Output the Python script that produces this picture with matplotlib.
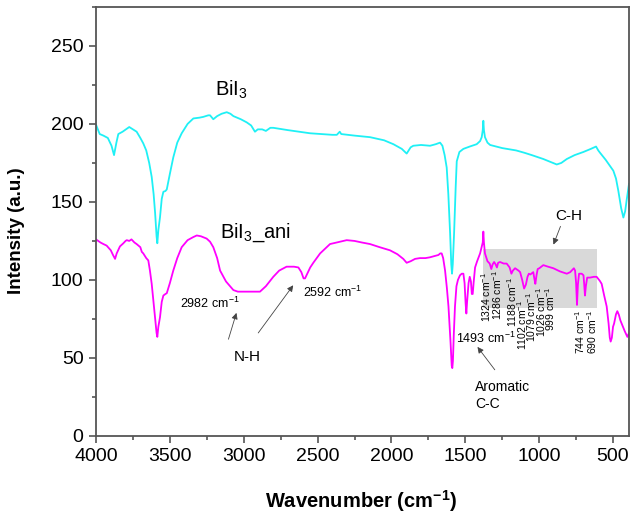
import matplotlib
matplotlib.use('Agg')
import matplotlib.pyplot as plt
from matplotlib.ticker import MultipleLocator
from matplotlib.patches import Rectangle

plt.rcParams['font.family'] = ['Liberation Sans', 'DejaVu Sans']
plt.rcParams['mathtext.fontset'] = 'custom'
plt.rcParams['mathtext.rm'] = 'Liberation Sans'
plt.rcParams['mathtext.bf'] = 'Liberation Sans:bold'

# BiI3 spectrum (wavenumber, intensity)
bii3_wn = [4000, 3975, 3950, 3920, 3895, 3878, 3862, 3849, 3820, 3790, 3775, 3750, 3725, 3700,
           3680, 3660, 3640, 3623, 3610, 3600, 3590, 3585, 3578, 3567, 3555, 3544, 3530, 3521,
           3500, 3477, 3450, 3420, 3380, 3341, 3300, 3274, 3240, 3228, 3206, 3180, 3150, 3115,
           3090, 3070, 3020, 2980, 2950, 2924, 2905, 2875, 2850, 2820, 2800, 2700, 2551, 2400,
           2370, 2350, 2340, 2250, 2145, 2050, 1987, 1930, 1897, 1870, 1852, 1800, 1739, 1700,
           1671, 1655, 1640, 1626, 1615, 1603, 1595, 1590, 1585, 1576, 1565, 1558, 1540, 1513,
           1470, 1423, 1400, 1389, 1382, 1378, 1374, 1367, 1350, 1332, 1250, 1156, 1100, 1050,
           972, 920, 881, 850, 813, 760, 701, 650, 615, 600, 588, 550, 498, 480, 464, 445, 430,
           418, 408, 392]
bii3_int = [199.5, 193.5, 192.5, 191, 186, 180, 188, 193.5, 195, 197, 198, 196.5, 195, 191,
            187.5, 183, 175, 166, 155, 143, 128, 123.5, 132, 140, 152, 156.5, 157, 158,
            168, 178.5, 188, 194, 200, 203.5, 204, 204.5, 205.5, 205.5, 203, 205, 206.5, 207.5,
            206.5, 205, 203, 201, 199, 195, 196.5, 196.5, 195.5, 197.5, 197.5, 196, 194, 193,
            193, 195, 193.5, 192.5, 191.5, 189.5, 187, 184, 181, 185, 186, 186.5, 186, 187,
            188, 186, 180, 172, 155, 130, 110, 104, 110, 130, 160, 176, 182, 184,
            185.5, 187, 189, 191.5, 196, 202, 196, 191.5, 188, 186.5, 184.5, 183, 181.5, 180,
            177.5, 175.5, 174, 175, 177.5, 180, 182, 184, 185.5, 183, 181.5, 177, 170, 165, 157, 146, 140,
            144, 151, 161.5]

# BiI3_ani spectrum (wavenumber, intensity)
ani_wn = [4000, 3970, 3950, 3928, 3900, 3885, 3871, 3860, 3838, 3815, 3800, 3792, 3775, 3760,
          3740, 3725, 3700, 3690, 3680, 3660, 3646, 3635, 3623, 3610, 3601, 3590, 3585, 3578,
          3567, 3555, 3544, 3530, 3521, 3500, 3477, 3450, 3420, 3380, 3341, 3318, 3290, 3251,
          3228, 3206, 3180, 3160, 3120, 3070, 3040, 3000, 2960, 2935, 2890, 2850, 2800, 2760,
          2710, 2660, 2630, 2610, 2595, 2585, 2570, 2550, 2529, 2483, 2450, 2416, 2350, 2303,
          2250, 2200, 2145, 2080, 2010, 1960, 1920, 1897, 1870, 1840, 1807, 1770, 1740, 1700,
          1682, 1670, 1660, 1650, 1637, 1625, 1614, 1600, 1592, 1588, 1584, 1578, 1570, 1560,
          1550, 1536, 1524, 1513, 1505, 1498, 1493, 1488, 1478, 1470, 1462, 1456, 1450, 1444,
          1434, 1420, 1400, 1390, 1382, 1378, 1374, 1367, 1350, 1335, 1324, 1315, 1305, 1295,
          1286, 1278, 1265, 1240, 1220, 1200, 1188, 1178, 1163, 1140, 1129, 1115, 1102, 1090,
          1079, 1070, 1060, 1040, 1033, 1026, 1018, 1010, 999, 972, 940, 904, 860, 813, 790,
          765, 757, 750, 744, 738, 730, 712, 700, 695, 690, 684, 675, 656, 630, 611, 590, 577,
          560, 543, 530, 522, 516, 508, 500, 493, 480, 471, 460, 450, 437, 420, 403, 392, 388]
ani_int = [126, 124, 123, 122, 119, 116, 113.5, 117, 121.5, 123.5, 125, 125.5, 125, 126,
           124, 123, 121, 118, 117, 114, 112.5, 106, 97.5, 85, 76, 66, 63.5, 70,
           76, 86, 90, 91, 91.5, 98, 106, 114, 121, 125.5, 127.5, 128.5, 128, 126.5,
           124.5, 121, 114, 106, 99, 93.5, 92.5, 92.5, 92.5, 92.5, 92.5, 96, 102, 106,
           108.5, 108.5, 108, 105, 101, 101, 104, 108, 111, 117, 120, 123, 124.5, 125.5,
           125, 124, 123, 121, 119, 116.5, 113.5, 111, 112, 113.5, 114, 114, 114.5, 115.5,
           116, 117, 117, 114, 106, 95, 83, 60, 45, 43.5, 48, 65, 83, 96,
           100, 103, 104, 104, 98, 85, 78.5, 86, 98, 102, 99, 91, 91, 98,
           108, 112, 117, 121, 124, 131, 124, 117, 112, 110.5, 107, 110, 111.5, 110,
           108, 111, 111.5, 110.5, 110.5, 108, 104, 106, 107.5, 106, 105, 100, 94.5, 97,
           102, 104, 103.5, 105, 101, 97.5, 103, 107, 107.5, 109.5, 108.5, 107.5, 105.5, 104, 105,
           107.5, 106, 98, 84, 97, 104, 104, 103, 97, 90, 96, 101.5, 101.5, 102, 102, 99.5, 97.5,
           90, 83, 72, 63, 60.5, 63, 70, 72, 78, 80, 77.5, 74, 71, 67, 63.5, 66, 67.5]

# peak labels inside the grey C-H region: (position, label x, label top)
ch_peaks = [1324, 1286, 1188, 1102, 1079, 1026, 999, 744, 690]
ch_label_x = [1358, 1288, 1186, 1114, 1052, 990, 925, 725, 640]
ch_label_top = [105, 106, 102, 87, 92, 95.5, 95.5, 81, 81]

fig = plt.figure(figsize=(6.3, 5.17), dpi=100)
ax = fig.add_axes([0.1524, 0.1567, 0.846, 0.830])

ax.add_patch(Rectangle((610, 82), 1380 - 610, 120 - 82, facecolor='#d9d9d9',
                       edgecolor='none', zorder=0))

ax.plot(bii3_wn, bii3_int, color='#1ff0f5', lw=1.3, zorder=2)
ax.plot(ani_wn, ani_int, color='#ff00ff', lw=1.3, zorder=2)

ax.set_xlim(4000, 392)
ax.set_ylim(0, 275)
ax.xaxis.set_major_locator(MultipleLocator(500))
ax.xaxis.set_minor_locator(MultipleLocator(250))
ax.yaxis.set_major_locator(MultipleLocator(50))
ax.yaxis.set_minor_locator(MultipleLocator(25))
ax.tick_params(which='major', direction='out', length=5, width=1.2, color='#555555',
               labelsize=14, pad=4)
ax.tick_params(which='minor', direction='out', length=3, width=1.2, color='#555555')
for s in ax.spines.values():
    s.set_color('#555555')
    s.set_linewidth(1.3)

ax.set_xlabel(r'Wavenumber (cm$^{\mathbf{-1}}$)', fontsize=14.5, fontweight='bold')
ax.set_ylabel('Intensity (a.u.)', fontsize=13.5, fontweight='bold')
ax.xaxis.set_label_coords(0.498, -0.122)
ax.yaxis.set_label_coords(-0.133, 0.478)

# sample names
ax.text(3080, 222, r'BiI$_3$', fontsize=14.5, ha='center', va='center')
ax.text(3161, 130.5, r'BiI$_3$_ani', fontsize=14.5, ha='left', va='center')

# N-H assignments
ax.text(3432, 85, r'2982 cm$^{-1}$', fontsize=9, ha='left', va='center')
ax.text(2602, 92.3, r'2592 cm$^{-1}$', fontsize=9, ha='left', va='center')
ax.text(2978, 50.7, 'N-H', fontsize=11, ha='center', va='center')
arrow = dict(arrowstyle='-|>', color='#444444', lw=0.6, mutation_scale=9)
ax.annotate('', xy=(3044, 80.6), xytext=(3109, 60.3), arrowprops=arrow)
ax.annotate('', xy=(2654, 98), xytext=(2913, 64.6), arrowprops=arrow)

# aromatic C-C
ax.text(1560, 62.5, r'1493 cm$^{-1}$', fontsize=9, ha='left', va='center')
ax.annotate('', xy=(1429, 58.5), xytext=(1289, 41), arrowprops=arrow)
ax.text(1436, 26, 'Aromatic\nC-C', fontsize=10, ha='left', va='center', linespacing=1.2)

# C-H region
ax.text(803, 140.8, 'C-H', fontsize=11, ha='center', va='center')
ax.annotate('', xy=(910, 121), xytext=(849, 136), arrowprops=arrow)
for p, x, top in zip(ch_peaks, ch_label_x, ch_label_top):
    ax.text(x, top, f'{p} cm$^{{-1}}$', fontsize=7.5, rotation=90,
            ha='center', va='top')

fig.savefig('out.png', dpi=100)
